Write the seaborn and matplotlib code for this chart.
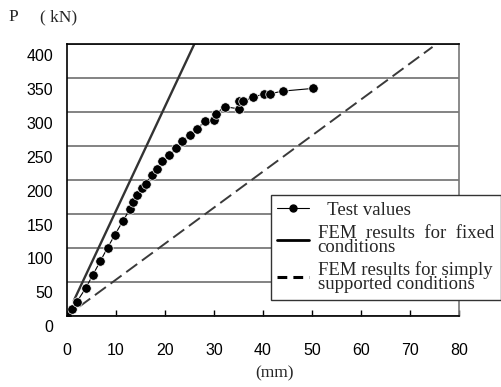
import numpy as np
import pandas as pd
import matplotlib
matplotlib.use("Agg")
import matplotlib.pyplot as plt
import matplotlib.transforms as mtransforms
from matplotlib.lines import Line2D
import seaborn as sns

# ---- data ----
test_x = [0.06, 1.0, 2.0, 3.8, 5.3, 6.8, 8.3, 9.8, 11.4, 12.9, 13.5, 14.3, 15.3, 16.1,
          17.3, 18.3, 19.4, 20.9, 22.2, 23.4, 25.1, 26.6, 28.2, 29.9, 30.4, 32.2,
          35.0, 35.1, 36.0, 37.9, 40.3, 41.4, 44.0, 50.3]
test_y = [1, 10, 20, 40, 60, 80, 100, 119, 139, 157, 167, 177, 187, 194,
          207, 216, 227, 236, 247, 256, 266, 275, 286, 287, 297, 307,
          304, 316, 315, 321, 326, 326, 330, 334]
fixed_x = [1.4, 26.1]
fixed_y = [22, 401]
simple_x = [2.5, 74.6]
simple_y = [13, 395]

x_ticks = [0, 10, 20, 30, 40, 50, 60, 70, 80]
y_ticks = [0, 50, 100, 150, 200, 250, 300, 350, 400]
labels = ["  Test values", "FEM  results  for  fixed\nconditions",
          "FEM results for simply\nsupported conditions"]

sns.set_theme(style="white")
plt.rcParams['font.family'] = ['Liberation Sans', 'DejaVu Sans']

fig = plt.figure(figsize=(5.01, 3.87), dpi=100)
ax = fig.add_axes([67/501, 1-315.5/387, 392/501, 272/387])

df_test = pd.DataFrame({"x": test_x, "y": test_y})
df_fix = pd.DataFrame({"x": fixed_x, "y": fixed_y})
df_sim = pd.DataFrame({"x": simple_x, "y": simple_y})

sns.lineplot(data=df_fix, x="x", y="y", ax=ax, color="#333333", lw=1.7,
             sort=False, estimator=None)
sns.lineplot(data=df_sim, x="x", y="y", ax=ax, color="#3a3a3a", lw=1.4,
             sort=False, estimator=None, dashes=False)
ax.lines[-1].set_dashes([7, 3])
sns.lineplot(data=df_test, x="x", y="y", ax=ax, color="black", lw=0.8,
             sort=False, estimator=None, marker="o", markersize=6.8,
             markeredgecolor="white", markeredgewidth=0.5, markerfacecolor="black")

ax.set_xlim(0, 80)
ax.set_ylim(0, 400)
ax.set_xticks(x_ticks)
ax.set_yticks(y_ticks)
ax.set_xlabel("")
ax.set_ylabel("")
ax.yaxis.grid(True, color="#7a7a7a", lw=1.3)
ax.xaxis.grid(False)
ax.set_axisbelow(True)

for s in ["left", "top", "bottom"]:
    ax.spines[s].set_color("black")
    ax.spines[s].set_linewidth(1.2)
ax.spines["right"].set_color("#777777")
ax.spines["right"].set_linewidth(1.2)

ax.tick_params(axis="x", direction="in", length=4.5, width=1, color="black",
               pad=20, labelsize=11.5, labelcolor="black", bottom=True)
ax.tick_params(axis="y", length=0, pad=10, labelsize=11.5, labelcolor="black")
off = mtransforms.ScaledTranslation(0, -11/100, fig.dpi_scale_trans)
for lab in ax.get_yticklabels():
    lab.set_transform(lab.get_transform() + off)

serif = ['Liberation Serif', 'DejaVu Serif']
fig.text(8/501, 1-17/387, "P", family=serif, fontsize=12.5, va="center", ha="left")
fig.text(40/501, 1-17/387, "( kN)", family=serif, fontsize=12.5, va="center", ha="left")
fig.text(274/501, 1-373/387, "(mm)", family=serif, fontsize=12.5, va="center", ha="center")

handles = [
    Line2D([], [], color="black", lw=0.8, marker="o", markersize=5, markerfacecolor="black",
           markeredgecolor="black"),
    Line2D([], [], color="black", lw=2.0),
    Line2D([], [], color="black", lw=2.2, dashes=[3.2, 2.0]),
]
leg = ax.legend(handles, labels, loc="upper left", bbox_to_anchor=(0.52, 0.442),
                borderaxespad=0, frameon=True, fancybox=False, framealpha=1,
                edgecolor="#333333", facecolor="white", handlelength=1.7,
                handletextpad=0.45, labelspacing=0.3, borderpad=0.35,
                prop={"family": serif, "size": 13.5})
leg.get_frame().set_linewidth(1.0)
for t in leg.get_texts():
    t.set_linespacing(0.78)
leg.set_clip_on(False)

fig.savefig("out.png", dpi=100)
